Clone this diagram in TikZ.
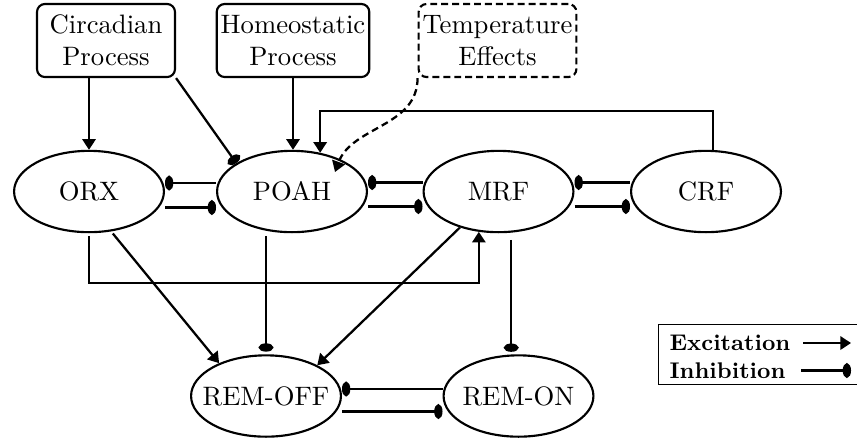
\documentclass[tikz,border=0pt]{standalone}
\usetikzlibrary{arrows.meta,calc,shapes.geometric}
\newcommand{\zw}[1]{\makebox[0pt]{#1}}
\begin{document}
\begin{tikzpicture}[x=0.375pt,y=0.375pt,
  procbox/.style={draw, line width=0.8pt, rounded corners=3pt, align=center,
    inner xsep=1.5pt, inner ysep=2pt, minimum width=51.75pt, minimum height=27.4pt},
  tempbox/.style={procbox, dash pattern=on 2.6pt off 1.5pt},
  region/.style={draw, ellipse, line width=0.8pt, minimum width=56.2pt,
    minimum height=30.5pt, inner sep=0pt},
  exc/.style={line width=0.85pt, -{Triangle[length=4pt,width=5pt]}},
  inh/.style={line width=0.85pt, -{Ellipse[length=3.1pt,width=5.5pt]}},
  dashcon/.style={exc, dash pattern=on 2.6pt off 1.6pt},
  legendbox/.style={draw, line width=0.5pt, minimum width=76.5pt, minimum height=22.5pt,
    anchor=north west, inner sep=0pt},
  legendtext/.style={anchor=west, inner sep=0pt, font=\fontsize{8.5}{10}\selectfont\bfseries},
]
\useasboundingbox (0,0) rectangle (857,-438);

% process boxes
\node[procbox] (circ) at (106,-40.5) {Circadian\\Process};
\node[procbox] (homeo) at (293,-40.5) {Homeostatic\\Process};
\node[tempbox] (temp) at (497.5,-40.5) {Temperature\\Effects};

% regions
\node[region] (orx) at (89,-191.5) {\zw{ORX}};
\node[region] (poah) at (292,-191.5) {\zw{POAH}};
\node[region] (mrf) at (498.5,-191.5) {\zw{MRF}};
\node[region] (crf) at (706,-191.5) {\zw{CRF}};
\node[region] (remoff) at (266,-396) {\zw{REM-OFF}};
\node[region] (remon) at (518.5,-396) {\zw{REM-ON}};

% inputs
\draw[exc] (circ.south -| orx.north) -- (orx.north);
\draw[inh] (circ.south east) -- (poah.153);
\draw[exc] (homeo.south) -- (homeo.south |- poah.north);
\draw[dashcon] (temp.south west) to[out=-90,in=70] ($(poah.center)+(43,19.5)$);
\draw[exc] (crf.80) -- ++(0,39) -| (poah.54);

% mutual pairs
\draw[inh] ($(poah.west)+(0,8.5)$) -- ($(orx.east)+(0,8.5)$);
\draw[inh] ($(orx.east)+(0,-16)$) -- ($(poah.west)+(0,-16)$);
\draw[inh] ($(mrf.west)+(0,9)$) -- ($(poah.east)+(0,9)$);
\draw[inh] ($(poah.east)+(0,-15)$) -- ($(mrf.west)+(0,-15)$);
\draw[inh] ($(crf.west)+(0,9)$) -- ($(mrf.east)+(0,9)$);
\draw[inh] ($(mrf.east)+(0,-15)$) -- ($(crf.west)+(0,-15)$);
\draw[inh] ($(remon.west)+(0,7)$) -- ($(remoff.east)+(0,7)$);
\draw[inh] ($(remoff.east)+(0,-15.5)$) -- ($(remon.west)+(0,-15.5)$);

% lower connections
\draw[exc, shorten <=1pt] (orx.south) -- ++(0,-50) -| (mrf.-116);
\draw[exc, shorten <=1pt] (orx.-61) -- (remoff.145);
\draw[inh, shorten <=1pt, shorten >=1pt] (poah.south -| remoff.north) -- (remoff.north);
\draw[exc] (mrf.-137) -- (remoff.31);
\draw[inh, shorten <=2.5pt, shorten >=1pt] (mrf.south -| remon.100) -- (remon.100);

% legend
\node[legendbox] (legend) at (658,-324) {};
\node[legendtext] (exlab) at (669,-343) {Excitation};
\node[legendtext] (inlab) at (669,-371) {Inhibition};
\coordinate (exa) at (803,-343);
\coordinate (exb) at (851,-343);
\coordinate (ina) at (801,-370.5);
\coordinate (inb) at (851,-370.5);
\draw[exc] (exa) -- (exb);
\draw[inh] (ina) -- (inb);
\end{tikzpicture}
\end{document}
